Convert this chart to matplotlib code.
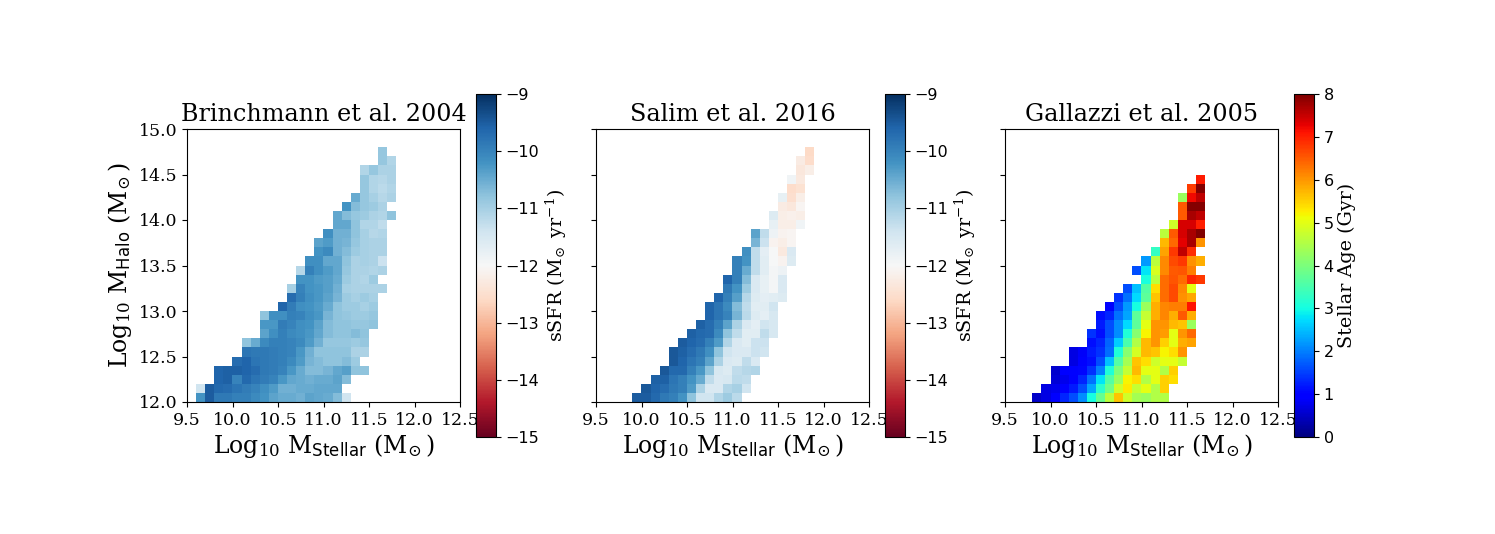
# -*- coding: utf-8 -*-
import numpy as np
import matplotlib
matplotlib.use('Agg')
import matplotlib.pyplot as plt

plt.rcParams['mathtext.default'] = 'regular'

# each row is (first column, values), rows go up in 0.1 dex halo bins from 12.0
x_edges = np.arange(9.5, 12.501, 0.1)
y_edges = np.arange(12.0, 15.001, 0.1)

brinchmann_rows = [
    (1, [-10.2, -9.5, -9.85, -9.85, -9.95, -9.95, -10.1, -10.2, -10.4, -10.5, -10.5, -10.55, -10.4, -10.45, -10.5, -10.7, -11.4]),
    (1, [-11.4, -9.5, -9.65, -9.7, -9.8, -9.9, -10.0, -10.15, -10.3, -10.55, -10.55, -10.5, -10.5, -10.45, -10.45, -10.45]),
    (3, [-9.6, -9.55, -10.0, -9.65, -9.8, -9.9, -10.0, -10.25, -10.45, -10.5, -10.55, -10.5, -10.5, -10.4, -10.7]),
    (3, [-9.6, -9.55, -9.55, -9.6, -9.7, -9.85, -9.9, -10.0, -10.25, -10.5, -10.7, -10.7, -10.6, -10.45, -10.35, -10.8, -10.8]),
    (5, [-9.7, -9.6, -9.8, -9.85, -9.9, -9.95, -10.1, -10.3, -10.6, -10.7, -10.8, -10.8, -10.7, -10.9]),
    (6, [-9.8, -9.85, -9.85, -9.9, -9.95, -10.0, -10.25, -10.55, -10.8, -10.8, -10.8, -10.8, -11.05, -11.05]),
    (6, [-10.8, -10.5, -10.1, -9.95, -9.95, -10.0, -10.1, -10.3, -10.55, -10.85, -10.85, -10.85, -10.9, -10.85]),
    (8, [-10.4, -10.15, -9.95, -10.1, -10.15, -10.25, -10.45, -10.7, -10.8, -10.8, -10.7, -10.8]),
    (8, [-10.25, -10.25, -9.9, -10.0, -10.15, -10.2, -10.4, -10.7, -10.8, -10.8, -10.85, -10.85, -10.8]),
    (8, [-10.8, -10.15, -10.15, -9.95, -10.0, -10.15, -10.25, -10.6, -10.8, -10.85, -10.9, -10.9, -10.85]),
    (10, [-9.6, -9.9, -10.15, -10.2, -10.3, -10.5, -10.8, -10.9, -10.9, -11.0, -10.9]),
    (11, [-9.7, -9.95, -10.15, -10.25, -10.4, -10.6, -10.9, -11.0, -10.9, -11.0]),
    (11, [-11.0, -10.0, -10.2, -10.25, -10.35, -10.55, -11.0, -11.05, -11.05, -11.05, -11.05]),
    (12, [-10.2, -10.2, -10.3, -10.35, -10.5, -10.9, -11.05, -11.1, -10.9]),
    (12, [-11.15, -9.95, -10.15, -10.3, -10.45, -10.85, -11.05, -11.05, -11.1, -11.05]),
    (13, [-10.15, -10.15, -10.45, -10.45, -10.8, -11.05, -11.0, -11.05, -11.35]),
    (14, [-10.2, -10.1, -10.55, -10.7, -10.9, -11.0, -11.05, -11.05]),
    (14, [-10.4, -10.3, -10.55, -10.6, -10.85, -11.0, -11.05, -11.05]),
    (15, [-10.15, -10.55, -10.55, -10.8, -11.0, -11.15, -11.1]),
    (16, [-10.45, -10.45, -10.8, -11.1, -11.1, -11.25]),
    (16, [-10.45, -10.7, -10.85, -10.9, -11.05, -11.1, -10.8]),
    (17, [-10.2, -10.7, -10.85, -10.9, -11.05]),
    (18, [-10.5, -10.85, -11.0, -11.15, -11.05]),
    (19, [-10.85, -11.1, -11.2, -11.1]),
    (19, [-10.85, -11.1, -11.15, -11.05]),
    (19, [-11.1, -10.85, -11.05, -11.05]),
    (21, [-10.85, -11.1]),
    (21, [-10.85]),
]

salim_rows = [
    (4, [-9.5, -9.5, -9.65, -9.85, -9.95, -10.2, -10.8, -11.4, -11.4, -11.1, -10.9, -11.2]),
    (5, [-9.45, -9.6, -9.7, -9.85, -9.95, -10.3, -11.05, -11.55, -11.55, -11.1, -11.0, -11.4]),
    (6, [-9.55, -9.55, -9.8, -9.95, -10.2, -10.5, -11.25, -11.55, -11.5, -11.2, -11.25]),
    (7, [-9.45, -9.65, -9.65, -9.95, -10.25, -10.8, -11.5, -11.6, -11.25, -11.15, -11.1]),
    (8, [-9.45, -9.6, -9.8, -9.95, -10.4, -11.05, -11.55, -11.6, -11.25, -11.55]),
    (8, [-9.45, -9.55, -9.7, -9.85, -10.15, -10.8, -11.4, -11.55, -11.55, -11.35, -11.4]),
    (9, [-9.5, -9.6, -9.7, -9.95, -10.3, -11.1, -11.55, -11.65, -11.35, -11.35]),
    (10, [-9.55, -9.65, -9.7, -10.1, -10.8, -11.25, -11.65, -11.65, -11.25, -11.5]),
    (11, [-9.55, -9.7, -9.95, -10.4, -11.05, -11.55, -11.7, -11.4, -11.5]),
    (12, [-9.6, -9.8, -10.0, -10.6, -11.2, -11.6, -11.7, -11.5]),
    (12, [-9.6, -9.8, -10.1, -10.7, -11.25, -11.65, -11.65, -11.4]),
    (13, [-9.6, -9.95, -10.35, -11.15, -11.6, -11.7, -11.65, -11.6]),
    (14, [-9.85, -10.2, -10.9, -11.55, -11.75, -11.95, -11.55]),
    (14, [-9.6, -9.95, -10.7, -11.55, -11.75, -11.95, -11.55]),
    (15, [-9.95, -10.5, -11.25, -11.65, -11.95, -11.85]),
    (15, [-9.95, -10.2, -11.25, -11.65, -12.0, -12.1, -11.6]),
    (16, [-10.15, -11.25, -11.7, -12.0, -12.3, -11.55]),
    (17, [-10.6, -11.35, -12.1, -12.2, -12.05]),
    (17, [-10.4, -11.25, -11.85, -12.1, -12.05]),
    (19, [-11.75, -12.2, -12.2, -11.9]),
    (19, [-11.6, -12.2, -12.15, -12.2]),
    (20, [-12.25, -12.35, -12.05]),
    (20, [-11.75, -12.5, -12.2]),
    (21, [-12.55, -12.45]),
    (21, [-11.9, -12.3]),
    (22, [-12.35, -12.2]),
    (22, [-12.25, -12.55]),
    (23, [-12.6]),
]

gallazzi_rows = [
    (3, [0.5, 0.7, 0.9, 1.3, 1.6, 2.1, 3.0, 3.8, 4.6, 5.6, 4.8, 4.4, 4.3, 4.5, 4.5]),
    (4, [0.7, 0.75, 0.9, 1.2, 1.6, 2.3, 3.2, 3.9, 4.8, 5.3, 4.7, 5.0, 4.5, 5.5]),
    (5, [0.6, 0.75, 0.9, 1.3, 1.9, 2.8, 3.6, 4.3, 5.2, 5.4, 4.5, 5.0, 5.5, 5.4]),
    (5, [0.55, 0.9, 1.0, 1.05, 1.4, 2.0, 3.1, 4.0, 4.7, 5.7, 5.0, 5.0, 4.5, 5.5]),
    (7, [0.7, 0.9, 1.1, 1.6, 2.5, 3.6, 4.4, 5.6, 5.4, 4.8, 5.0, 5.0, 4.7]),
    (7, [0.7, 0.85, 1.2, 1.4, 1.85, 3.1, 4.1, 4.85, 5.7, 5.6, 5.2, 5.4, 6.0]),
    (9, [1.1, 1.3, 1.8, 2.6, 3.5, 4.5, 5.7, 6.0, 5.5, 5.0, 5.8, 5.9]),
    (9, [1.4, 1.1, 1.6, 2.1, 3.1, 4.1, 5.2, 6.0, 5.95, 5.0, 6.0, 6.4]),
    (10, [1.2, 1.6, 2.1, 2.7, 3.7, 5.0, 6.0, 6.0, 5.7, 5.6, 4.3]),
    (10, [1.1, 1.3, 1.9, 2.3, 3.7, 4.7, 5.8, 6.15, 5.8, 6.5, 5.8]),
    (11, [1.0, 1.6, 2.2, 3.0, 4.3, 5.8, 6.15, 6.2, 6.2, 7.1]),
    (12, [1.4, 1.9, 2.7, 3.7, 5.6, 6.35, 6.65, 6.05, 5.85]),
    (13, [1.6, 2.5, 3.6, 5.4, 6.35, 6.65, 6.1, 5.0]),
    (15, [3.05, 4.6, 6.35, 6.55, 6.35, 6.95, 6.8]),
    (14, [1.6, 2.8, 4.9, 6.1, 6.5, 6.55, 6.2]),
    (15, [2.2, 4.6, 6.1, 6.65, 6.8, 6.05, 5.8]),
    (16, [3.3, 5.9, 6.8, 7.55, 6.9]),
    (17, [5.7, 6.4, 7.3, 7.7, 6.0]),
    (17, [4.6, 6.5, 7.4, 7.7, 8.0]),
    (18, [4.8, 7.4, 7.4, 7.0]),
    (19, [6.5, 7.7, 7.55]),
    (19, [6.5, 7.95, 7.95]),
    (19, [4.3, 7.2, 7.55]),
    (20, [6.75, 7.95]),
    (21, [7.05]),
]

titles = ['Brinchmann et al. 2004', 'Salim et al. 2016', 'Gallazzi et al. 2005']
x_ticks = [9.5, 10.0, 10.5, 11.0, 11.5, 12.0, 12.5]
y_ticks = [12.0, 12.5, 13.0, 13.5, 14.0, 14.5, 15.0]
ssfr_ticks = [-15, -14, -13, -12, -11, -10, -9]
age_ticks = [0, 1, 2, 3, 4, 5, 6, 7, 8]

W, H = 1495, 534


def to_grid(rows):
    grid = np.full((30, 30), np.nan)
    for i, (start, vals) in enumerate(rows):
        grid[i, start:start + len(vals)] = vals
    return grid


def px_axes(x0, x1, y0, y1):
    return fig.add_axes([x0 / W, 1 - y1 / H, (x1 - x0) / W, (y1 - y0) / H])


fig = plt.figure(figsize=(W / 100, H / 100), dpi=100)

panels = [
    (brinchmann_rows, 'RdBu', -15, -9, ssfr_ticks, r'sSFR (M$_{\!\odot}$ yr$^{-1}$)', 187, 476),
    (salim_rows, 'RdBu', -15, -9, ssfr_ticks, r'sSFR (M$_{\!\odot}$ yr$^{-1}$)', 596, 885),
    (gallazzi_rows, 'jet', 0, 8, age_ticks, 'Stellar Age (Gyr)', 1005, 1294),
]

for n, (rows, cmap, vmin, vmax, cticks, clabel, left, cleft) in enumerate(panels):
    ax = px_axes(left, left + 273, 129, 402)
    mesh = ax.pcolormesh(x_edges, y_edges, to_grid(rows), cmap=cmap, vmin=vmin, vmax=vmax)
    ax.set_xlim(9.5, 12.5)
    ax.set_ylim(12.0, 15.0)
    ax.set_xticks(x_ticks)
    ax.set_yticks(y_ticks)
    ax.set_xticklabels(['%.1f' % t for t in x_ticks], family='DejaVu Serif', fontsize=12.5)
    if n == 0:
        ax.set_yticklabels(['%.1f' % t for t in y_ticks], family='DejaVu Serif', fontsize=12.5)
        ax.set_ylabel(r'Log$_{10}$ M$_{\rm Halo}$ (M$_{\!\odot}$)', family='DejaVu Serif', fontsize=17, labelpad=3)
    else:
        ax.set_yticklabels([])
    ax.set_xlabel(r'Log$_{10}$ M$_{\rm Stellar}$ (M$_{\!\odot}$)', family='DejaVu Serif', fontsize=17, labelpad=2)
    ax.set_title(titles[n], family='DejaVu Serif', fontsize=17.2, pad=6)

    cax = px_axes(cleft, cleft + 20, 94, 437)
    cb = fig.colorbar(mesh, cax=cax, ticks=cticks)
    cb.ax.tick_params(labelsize=11.5)
    cb.ax.set_yticklabels([str(t).replace('-', '\u2212') for t in cticks])
    cb.set_label(clabel, family='DejaVu Serif', fontsize=13.8, labelpad=3)

fig.savefig('out.png', dpi=100)
